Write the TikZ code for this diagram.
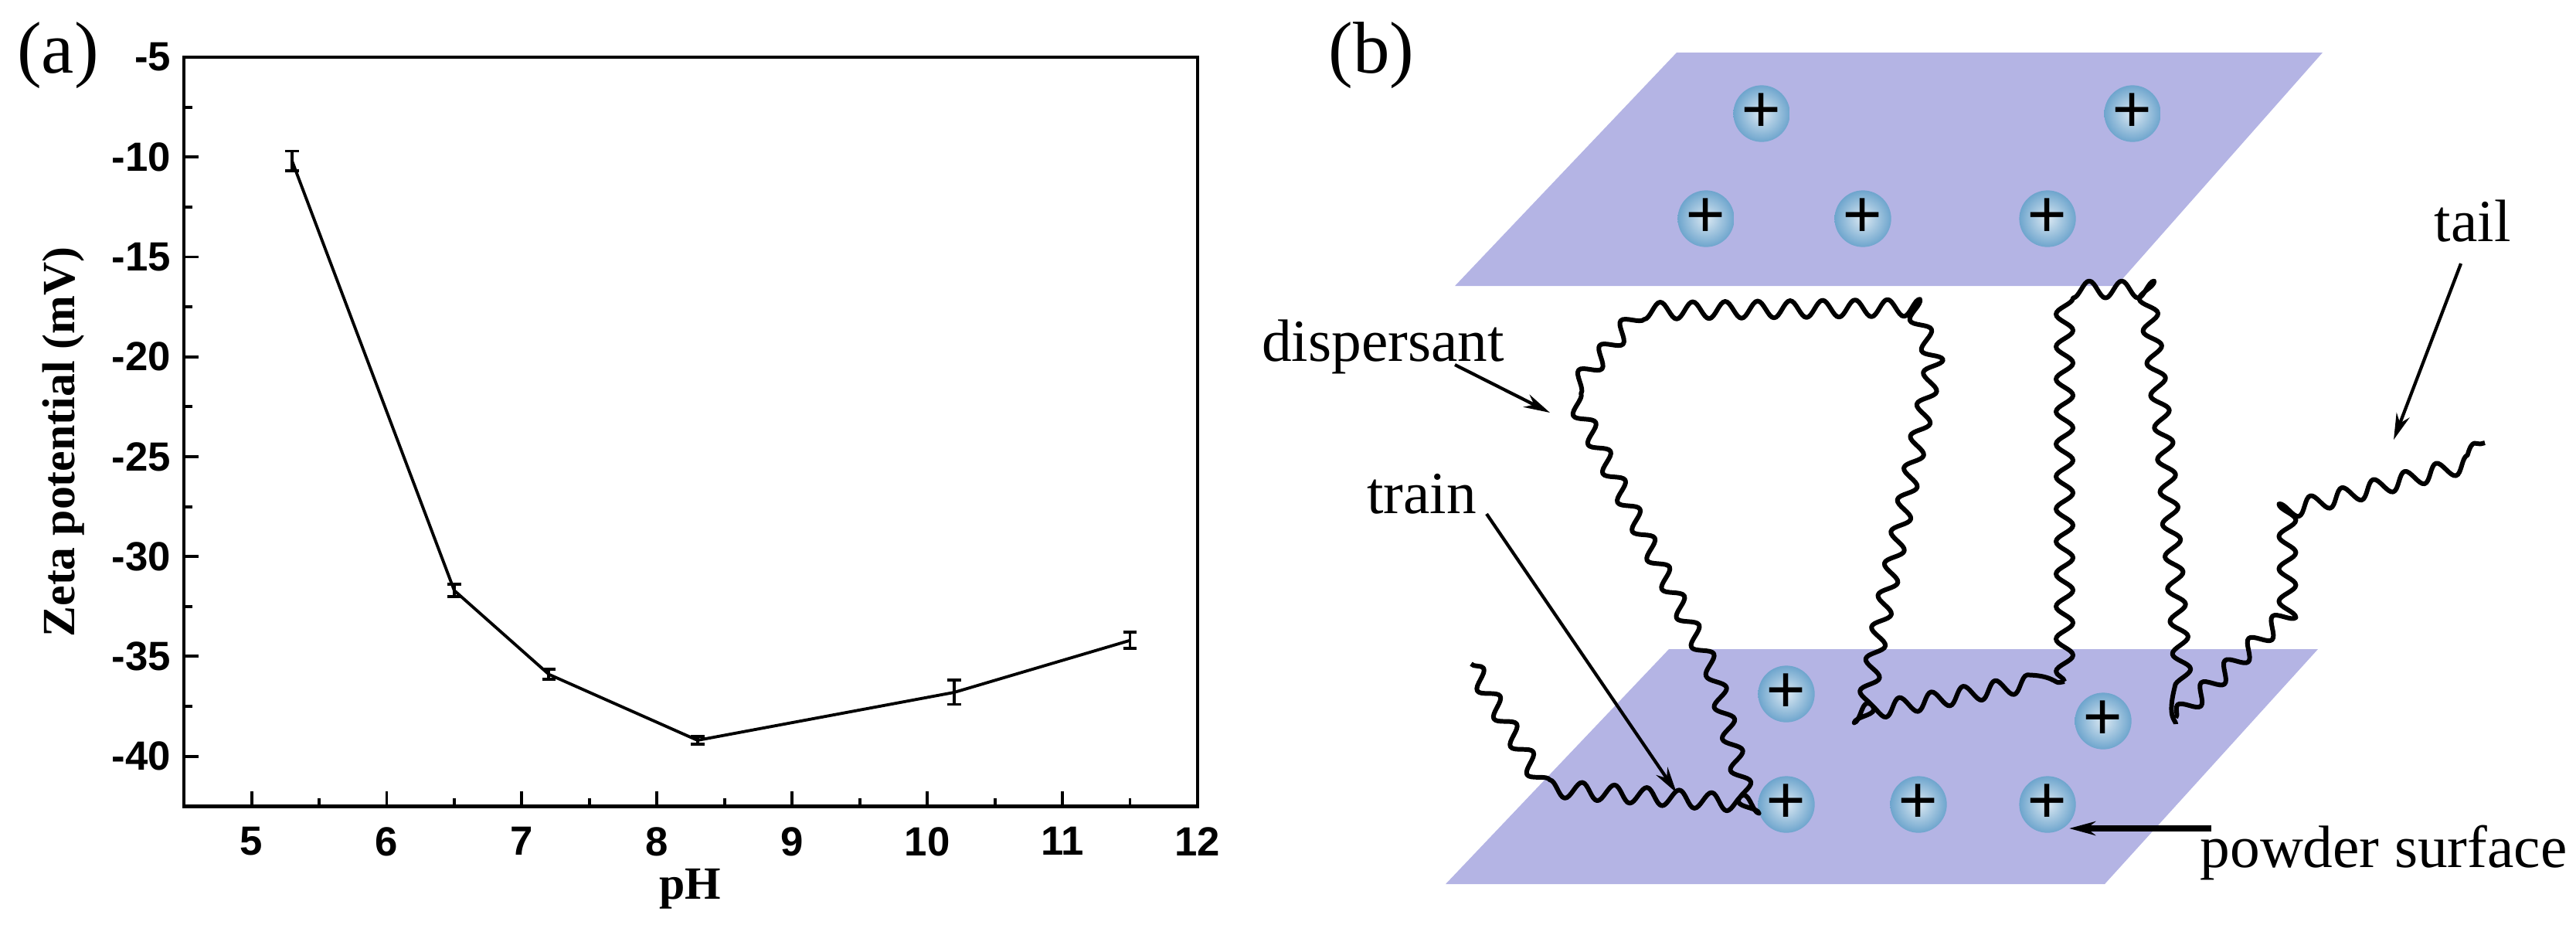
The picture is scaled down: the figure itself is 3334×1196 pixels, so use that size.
\documentclass[tikz,border=0pt]{standalone}
\usepackage{fontspec}
\setmainfont{Liberation Serif}
\newfontfamily\plotsans{Liberation Sans}
\usetikzlibrary{decorations.pathmorphing,arrows.meta}

\definecolor{planecol}{RGB}{180,180,228}
\definecolor{ioncol}{RGB}{110,165,205}

\tikzset{
  plane/.style={fill=planecol, draw=none},
  ion/.style={circle, minimum size=0.56cm, inner sep=0pt, shading=radial,
    inner color=ioncol!25!white, outer color=ioncol,
    font=\fontsize{26}{26}\selectfont\bfseries},
  chain/.style={line width=1.7pt, line join=round, decorate,
    decoration={snake, segment length=0.42cm, amplitude=0.11cm}},
  pointer/.style={-{Stealth[length=0.34cm,width=0.18cm]}, line width=1.2pt},
  lbl/.style={font=\fontsize{22}{22}\selectfont, inner sep=0pt},
  tick/.style={font=\plotsans\fontsize{15}{15}\selectfont\bfseries, inner sep=0pt}
}

\begin{document}
\begin{tikzpicture}[x=0.01cm, y=-0.01cm]
  \useasboundingbox (0,0) rectangle (3334,1196);

  % Panel (a): zeta potential versus pH
  \node[font=\fontsize{27}{27}\selectfont] (tagA) at (75,72) {(a)};
  \begin{scope}[shift={(-5.486cm,0.5515cm)}, x=1.748cm, y=0.2583cm, line width=1.1pt]
    \draw[line width=1.3pt] (4.5,-42.5) rectangle (12,-5);
    \foreach \p in {5,...,12}
      \draw (\p,-42.5) -- ++(0,0.75) node[tick, pos=0, below=0.25cm] {\p};
    \foreach \p in {4.5,5.5,...,11.5}
      \draw (\p,-42.5) -- ++(0,0.4);
    \foreach \v in {-40,-35,...,-5}
      \draw (4.5,\v) -- ++(0.11,0) node[tick, pos=0, left=0.15cm] {\v};
    \foreach \v in {-42.5,-37.5,...,-7.5}
      \draw (4.5,\v) -- ++(0.06,0);
    \draw (5.3,-10.2) -- (6.5,-31.7) -- (7.2,-35.9) -- (8.3,-39.2) -- (10.2,-36.8) -- (11.5,-34.2);
    \foreach \p/\v/\e in {5.3/-10.2/0.5, 6.5/-31.7/0.3, 7.2/-35.9/0.25, 8.3/-39.2/0.2, 10.2/-36.8/0.6, 11.5/-34.2/0.4}
      \draw (\p-0.05,\v+\e) -- (\p+0.05,\v+\e) (\p,\v+\e) -- (\p,\v-\e) (\p-0.05,\v-\e) -- (\p+0.05,\v-\e);
  \end{scope}
  \node[font=\fontsize{17}{17}\selectfont\bfseries] (xlab) at (893,1150) {pH};
  \node[font=\fontsize{17}{17}\selectfont\bfseries, rotate=90] (ylab) at (82,572) {Zeta potential (mV)};

  % Panel (b): dispersant between surfaces
  \node[font=\fontsize{27}{27}\selectfont] (tagB) at (1775,72) {(b)};
  \fill[plane] (2170,68) -- (3006,68) -- (2739,370) -- (1883,370) -- cycle;
  \fill[plane] (2160,840) -- (3000,840) -- (2724,1144) -- (1871,1144) -- cycle;

  \foreach \n/\x/\y in {t1/2280/147, t2/2760/147, t3/2208/283, t4/2411/283, t5/2650/283,
                        b1/2312/898, b2/2722/933, b3/2312/1041, b4/2483/1041, b5/2650/1041}
    \node[ion] (\n) at (\x,\y) {+};

  % chains
  \draw[chain] (1904,859) -- (1996,1014) -- (2252,1034) -- (2201,836) -- (2027,495)
    -- (2119,387) -- (2467,383) -- (2498,464) -- (2427,813) -- (2406,929) -- (2672,882);
  \draw[chain] (2672,882) -- (2672,387) -- (2765,387) -- (2790,600) -- (2816,937);
  \draw[chain] (2816,929) -- (2949,805) -- (2949,642) -- (3216,573);

  % labels
  \node[lbl] (dispersant) at (1790,449) {dispersant};
  \node[lbl] (train) at (1840,639) {train};
  \node[lbl] (tail) at (3200,286) {tail};
  \node[lbl] (powder) at (3085,1103) {powder surface};
  \coordinate (dispTip) at (2006,534);
  \coordinate (trainTip) at (2170,1026);
  \coordinate (tailTip) at (3098,569);
  \coordinate (powderTip) at (2678,1072);
  \draw[pointer] (1883,472) -- (dispTip);
  \draw[pointer] (1924,665) -- (trainTip);
  \draw[pointer] (3185,341) -- (tailTip);
  \draw[pointer, line width=2.4pt] (2862,1072) -- (powderTip);
\end{tikzpicture}
\end{document}
